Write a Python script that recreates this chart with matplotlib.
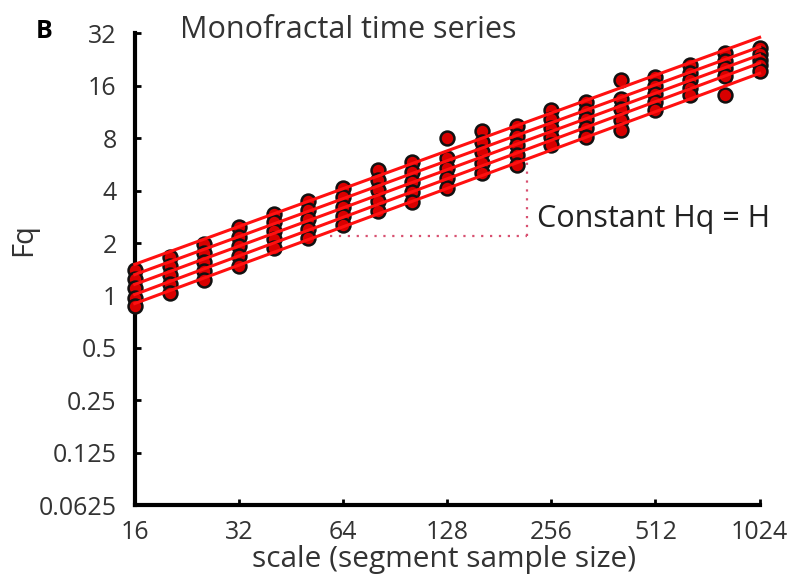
import numpy as np
import matplotlib.pyplot as plt

# ==========================================
# Data
# ==========================================

scales = [16, 20.2, 25.4, 32, 40.3, 50.8, 64, 80.6, 101.6, 128,
          161.3, 203.2, 256, 322.5, 406.4, 512, 645.1, 812.7, 1024]

# log2(Fq) per q, highest curve first
log2_fq = [
    [0.48, 0.73, 0.99, 1.30, 1.56, 1.81, 2.04, 2.39, 2.54, 3.00,
     3.13, 3.24, 3.53, 3.68, 4.10, 4.16, 4.39, 4.62, 4.71],
    [0.31, 0.56, 0.81, 1.12, 1.40, 1.63, 1.87, 2.20, 2.35, 2.62,
     2.93, 3.05, 3.36, 3.52, 3.75, 4.00, 4.25, 4.48, 4.61],
    [0.14, 0.39, 0.64, 0.94, 1.23, 1.45, 1.69, 2.01, 2.17, 2.43,
     2.73, 2.86, 3.20, 3.36, 3.55, 3.85, 4.11, 4.33, 4.50],
    [-0.04, 0.21, 0.46, 0.75, 1.07, 1.27, 1.52, 1.81, 1.98, 2.24,
     2.53, 2.67, 3.03, 3.19, 3.35, 3.69, 3.96, 4.18, 4.40],
    [-0.21, 0.04, 0.29, 0.57, 0.90, 1.09, 1.34, 1.62, 1.79, 2.04,
     2.33, 2.48, 2.86, 3.03, 3.15, 3.53, 3.82, 3.82, 4.29],
]

x_ticks = [16, 32, 64, 128, 256, 512, 1024]
y_ticks = [0.0625, 0.125, 0.25, 0.5, 1, 2, 4, 8, 16, 32]

# slope triangle
tri_x = [58.6, 217]
tri_y = [2.18, 6.05]

# ==========================================
# Plot
# ==========================================

plt.rcParams["font.family"] = ["Open Sans", "DejaVu Sans"]

fig = plt.figure(figsize=(7.88, 5.84), dpi=100)
ax = fig.add_axes([0.171, 0.135, 0.793, 0.808])

x = np.array(scales)

for vals in log2_fq:
    y = np.power(2.0, np.array(vals))
    ax.plot(x, y, "o", ms=10, mfc="#d80000", mec="#111111", mew=1.8,
            clip_on=False, zorder=3)

for vals in log2_fq:
    p = np.polyfit(np.log2(x), vals, 1)
    fit = np.power(2.0, np.polyval(p, np.log2(x)))
    ax.plot(x, fit, "-", color="#ff1010", lw=2.2, clip_on=False, zorder=4)

ax.plot(tri_x, [tri_y[0], tri_y[0]], ls=(0, (1, 3)), color="#d85070", lw=1.6)
ax.plot([tri_x[1], tri_x[1]], tri_y, ls=(0, (1, 3)), color="#d85070", lw=1.6)

ax.text(232, 2.75, "Constant Hq = H", fontsize=22, color="#222222",
        va="center", ha="left")

ax.set_xscale("log", base=2)
ax.set_yscale("log", base=2)
ax.set_xlim(16, 1024)
ax.set_ylim(0.0625, 32)

ax.set_xticks(x_ticks)
ax.set_xticklabels([str(t) for t in x_ticks])
ax.set_yticks(y_ticks)
ax.set_yticklabels([f"{t:g}" for t in y_ticks])
ax.minorticks_off()

ax.tick_params(direction="in", length=4, width=2, labelsize=18,
               labelcolor="#333333")
ax.tick_params(axis="x", pad=11)
ax.tick_params(axis="y", pad=13)

for s in ["top", "right"]:
    ax.spines[s].set_visible(False)
for s in ["left", "bottom"]:
    ax.spines[s].set_linewidth(3)

fig.text(444 / 788, 1 - 560 / 584, "scale (segment sample size)",
         fontsize=21.5, color="#333333", ha="center", va="center")
fig.text(24 / 788, 1 - 240 / 584, "Fq", fontsize=21, color="#333333",
         rotation=90, ha="center", va="center")

fig.text(180 / 788, 1 - 30 / 584, "Monofractal time series", fontsize=22,
         color="#333333", va="center")
fig.text(36 / 788, 1 - 32 / 584, "B", fontsize=18, fontweight="bold",
         va="center")

plt.savefig("out.png", dpi=100)
